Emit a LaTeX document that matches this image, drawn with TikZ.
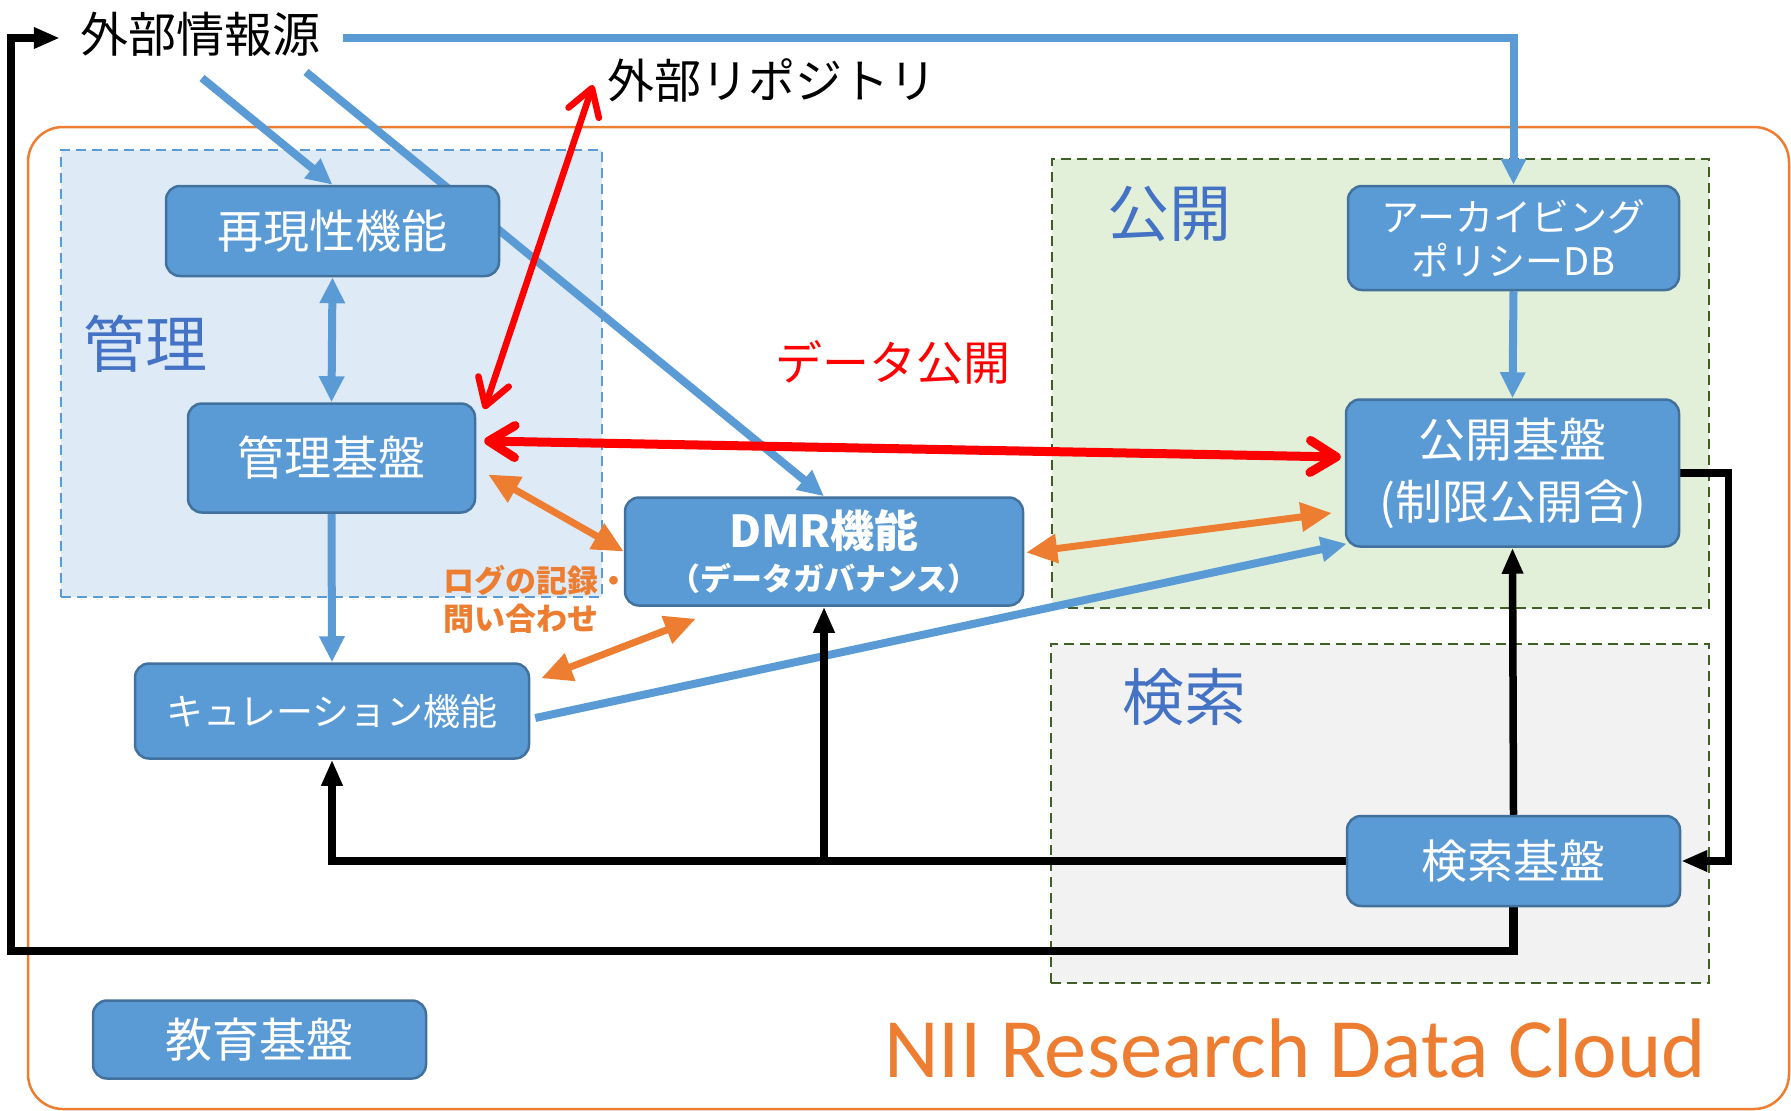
\documentclass[tikz,border=0pt]{standalone}
\usepackage{fontspec}
\usepackage{graphicx}
\setmainfont{Noto Sans CJK JP}
\newfontfamily\niifont{Carlito}
\usetikzlibrary{arrows.meta,calc}
\definecolor{boxfill}{HTML}{5B9BD5}
\definecolor{boxline}{HTML}{41719C}
\definecolor{ablue}{HTML}{5B9BD5}
\definecolor{ared}{HTML}{FF0000}
\definecolor{aorange}{HTML}{ED7D31}
\definecolor{lblue}{HTML}{4472C4}
\definecolor{kanrifill}{HTML}{DEEBF7}
\definecolor{kokaifill}{HTML}{E2F0D9}
\definecolor{kenfill}{HTML}{F2F2F2}
\definecolor{gline}{HTML}{3F5F27}
\pgfdeclarelayer{back}
\pgfdeclarelayer{mid}
\pgfsetlayers{back,mid,main}
\tikzset{
  box/.style={draw=boxline, fill=boxfill, line width=2.5pt, rounded corners=14pt,
    text=white, align=center, inner sep=0pt},
  region/.style={line width=2pt, dash pattern=on 10pt off 6pt, inner sep=0pt},
  lbl/.style={text=lblue, inner sep=0pt, font=\fontsize{62}{70}\selectfont},
  bl/.style={draw=ablue, line width=8pt, -{Triangle[length=26pt,width=24pt]}},
  bltwo/.style={draw=ablue, line width=8pt, {Triangle[length=26pt,width=24pt]}-{Triangle[length=26pt,width=24pt]}},
  rd/.style={draw=ared, {Straight Barb[length=26pt,width=32pt,round]}-{Straight Barb[length=26pt,width=32pt,round]}},
  og/.style={draw=aorange, line width=7pt, {Triangle[length=31pt,width=28pt]}-{Triangle[length=31pt,width=28pt]}},
  bk/.style={draw=black, line width=7.5pt, -{Triangle[length=26pt,width=20pt]}},
}
\begin{document}
\begin{tikzpicture}[x=1pt,y=-1pt]
\useasboundingbox (0,0) rectangle (1791,1111);

% ---------- regions ----------
\begin{pgfonlayer}{back}
\node[draw=aorange, line width=2.5pt, rounded corners=35pt, minimum width=1761pt, minimum height=982pt, inner sep=0pt] (cloud) at (908.5,618) {};
\node[region, draw=ablue, fill=kanrifill, minimum width=541pt, minimum height=447pt] (kanriR) at (331.5,373.5) {};
\node[region, draw=gline, fill=kokaifill, minimum width=657pt, minimum height=449pt] (kokaiR) at (1380.5,383.5) {};
\node[region, draw=gline, fill=kenfill, minimum width=658pt, minimum height=339pt] (kenR) at (1380,813.5) {};
\end{pgfonlayer}

% ---------- boxes ----------
\node[box, minimum width=333pt, minimum height=90pt, font=\fontsize{46}{55}\selectfont] (rep) at (332.5,231) {再現性機能};
\node[box, minimum width=287pt, minimum height=109pt, font=\fontsize{47}{56}\selectfont] (kanri) at (331.5,458) {管理基盤};
\node[box, minimum width=394pt, minimum height=95pt, font=\fontsize{37}{44}\selectfont] (cur) at (332,711) {キュレーション機能};
\node[box, minimum width=398pt, minimum height=108pt] (dmr) at (824,551.5)
  {\fontsize{44}{48}\selectfont\bfseries DMR機能\\[11pt]\fontsize{31}{35}\selectfont\bfseries （データガバナンス）};
\node[box, minimum width=331pt, minimum height=104pt, font=\fontsize{38}{44}\selectfont] (arch) at (1513.5,238) {アーカイビング\\ポリシーDB};
\node[box, minimum width=333pt, minimum height=147pt, font=\fontsize{47}{62}\selectfont] (kokai) at (1512.5,473) {公開基盤\\(制限公開含)};
\node[box, minimum width=333pt, minimum height=90pt, font=\fontsize{46}{55}\selectfont] (ken) at (1513.5,861) {検索基盤};
\node[box, minimum width=333pt, minimum height=78pt, font=\fontsize{47}{56}\selectfont] (edu) at (259.5,1039.5) {教育基盤};

% ---------- labels ----------
\node[inner sep=0pt, font=\fontsize{48}{56}\selectfont] (src) at (200,34) {外部情報源};
\node[inner sep=0pt, font=\fontsize{47}{56}\selectfont] (repo) at (772,80) {外部リポジトリ};
\node[lbl] (lkanri) at (145,344) {管理};
\node[lbl] (lkokai) at (1169,214) {公開};
\node[lbl] (lken) at (1184,697) {検索};
\node[inner sep=0pt, text=ared, font=\fontsize{47}{56}\selectfont] (pub) at (893,362) {データ公開};
\node[inner sep=0pt, text=aorange, anchor=west, align=left, font=\fontsize{31}{38}\selectfont\bfseries] (log) at (443,599) {ログの記録・\\問い合わせ};
\node[inner sep=0pt, text=aorange, anchor=base west] (nii) at (884,1077)
  {\resizebox{822pt}{!}{\niifont\fontsize{85}{100}\selectfont NII Research Data Cloud}};

% ---------- connectors ----------
\begin{pgfonlayer}{mid}
% blue
\draw[bl] ($(src.center)+(2,44)$) -- (rep.north);
\draw[bl] ($(src.center)+(106,38)$) -- (dmr.north);
\draw[bl] ($(src.center)+(143,4)$) -| (arch.north);
\draw[bl] (arch.south) -- (kokai.north);
\draw[bltwo] (rep.south) -- (kanri.north);
\draw[bl] (kanri.south) -- (cur.north);
\draw[bl] ($(cur.east)+(5,7)$) -- ($(kokai.south west)+(2,-4)$);
% red
\draw[rd, line width=6.5pt] ($(repo.center)+(-179,5)$) -- ($(kanri.north east)+(8,7)$);
\draw[rd, line width=9pt] ($(kanri.east)+(8,-17)$) -- ($(kokai.west)+(-4,-16)$);
% orange
\draw[og] ($(kanri.east)+(12,16.5)$) -- (dmr.west);
\draw[og] ($(cur.north east)+(11,16)$) -- ($(dmr.south west)+(72,12)$);
\draw[og] ($(dmr.east)+(2,1)$) -- ($(kokai.west)+(-13,40)$);
% black
\coordinate (lb) at (11,951);
\draw[bk] (ken.north) -- (kokai.south);
\draw[bk] (kokai.east) -- ++(48,0) |- (ken.east);
\draw[bk] (ken.west) -| (cur.south);
\draw[bk] (ken.west -| dmr.south) -- (dmr.south);
\draw[bk, line width=8.5pt] (ken.south) |- (lb) |- ($(src.west)+(-20,4)$);
\end{pgfonlayer}
\end{tikzpicture}
\end{document}
